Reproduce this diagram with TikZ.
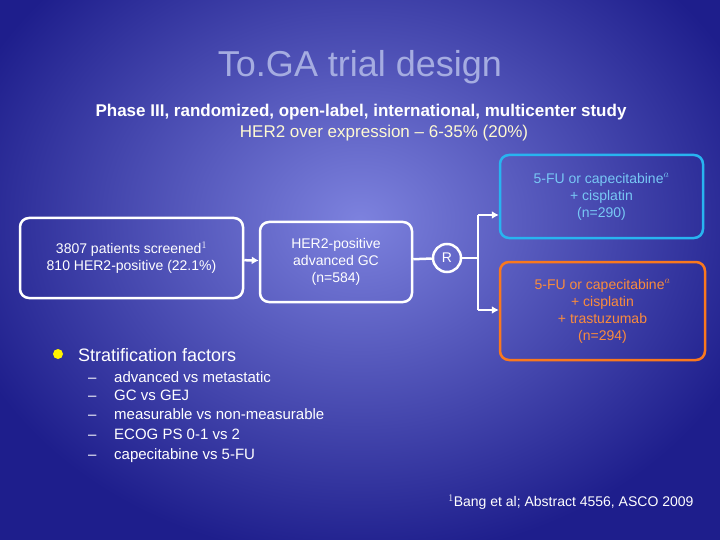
\documentclass[tikz,border=0pt]{standalone}
\usepackage{fontspec}
\setmainfont{Liberation Sans}
\usetikzlibrary{arrows.meta}
\definecolor{bgin}{RGB}{125,130,222}
\definecolor{bgout}{RGB}{30,30,140}
\definecolor{titlec}{RGB}{165,172,225}
\definecolor{sub2c}{RGB}{255,250,210}
\definecolor{cyanb}{RGB}{40,180,240}
\definecolor{cyant}{RGB}{120,200,245}
\definecolor{orab}{RGB}{250,120,30}
\definecolor{orat}{RGB}{250,140,60}
\begin{document}
\begin{tikzpicture}[x=1pt,y=-1pt,
  box/.style={draw=white,line width=2.5pt,rounded corners=9pt,inner sep=0pt,align=center,text=white,font=\fontsize{14}{17}\selectfont},
  conn/.style={draw=white,line width=2.5pt},
  arr/.style={conn,-{Latex[length=7pt,width=8pt]}},
  item/.style={anchor=base west,text=white,font=\fontsize{15}{17}\selectfont,inner sep=0pt}]
\useasboundingbox (0,0) rectangle (720,540);
\clip (0,0) rectangle (720,540);
\shade[inner color=bgin,outer color=bgout] (-60,-120) rectangle (780,560);
\node[text=titlec,font=\fontsize{36}{40}\selectfont] (title) at (360,67) {To.GA trial design};
\node[text=white,font=\bfseries\fontsize{17}{20}\selectfont] (sub1) at (361,112) {Phase III, randomized, open-label, international, multicenter study};
\node[text=sub2c,font=\fontsize{17}{20}\selectfont] (sub2) at (384,133) {HER2 over expression -- 6-35\% (20\%)};
\node[box,minimum width=223pt,minimum height=80pt] (b1) at (131.5,258) {3807 patients screened$^{1}$\\810 HER2-positive (22.1\%)};
\node[box,minimum width=152pt,minimum height=80pt] (b2) at (336,262) {HER2-positive\\advanced GC\\(n=584)};
\node[draw=white,line width=2.5pt,circle,minimum size=28pt,inner sep=0pt,text=white,font=\fontsize{14}{17}\selectfont] (r) at (447,258) {R};
\node[box,draw=cyanb,text=cyant,minimum width=203pt,minimum height=83pt] (t) at (601.5,196.5) {5-FU or capecitabine$^{a}$\\+ cisplatin\\(n=290)};
\node[box,draw=orab,text=orat,minimum width=205pt,minimum height=98pt] (bo) at (602.5,311) {5-FU or capecitabine$^{a}$\\+ cisplatin\\+ trastuzumab\\(n=294)};
\coordinate (j) at (478,258);
\coordinate (ja) at (478,215);
\coordinate (jb) at (478,310);
\draw[arr] (b1) -- (b2);
\draw[conn] (b2) -- (r);
\draw[conn] (r) -- (j);
\draw[arr] (ja) -- (t.west |- ja);
\draw[arr] (jb) -- (bo.west |- jb);
\draw[conn] (ja) -- (jb);
\fill[yellow] (58,354) circle (5pt);
\node[item,font=\fontsize{18}{20}\selectfont] (sf) at (78,361) {Stratification factors};
\foreach \y/\t [count=\i] in {377/advanced vs metastatic,395/GC vs GEJ,414/measurable vs non-measurable,434/ECOG PS 0-1 vs 2,454/capecitabine vs 5-FU}{
  \node[item] (d\i) at (88,\y+5) {--};
  \node[item] (s\i) at (114,\y+5) {\t};
}
\node[text=white,font=\fontsize{14}{17}\selectfont,anchor=east] (ref) at (697,502) {$^{1}$Bang et al; Abstract 4556, ASCO 2009};
\end{tikzpicture}
\end{document}
